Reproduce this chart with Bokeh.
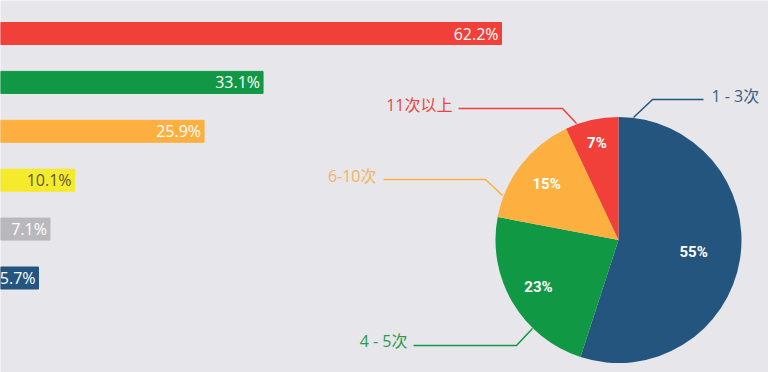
import math
from bokeh.plotting import figure
from bokeh.models import Range1d, ColumnDataSource
from bokeh.core.properties import value
from bokeh.embed import file_html
from bokeh.resources import INLINE

# ---- data ----
bar_values = [62.2, 33.1, 25.9, 10.1, 7.1, 5.7]
bar_labels = ["62.2%", "33.1%", "25.9%", "10.1%", "7.1%", "5.7%"]
bar_colors = ["#f1403a", "#109845", "#fdb03f", "#f5ea2b", "#b9b8bd", "#24557f"]
bar_text_colors = ["#ffffff", "#ffffff", "#ffffff", "#5a5840", "#ffffff", "#ffffff"]

pie_names = ["1 - 3次", "4 - 5次", "6-10次", "11次以上"]
pie_shares = [55, 23, 15, 7]
pie_labels = ["55%", "23%", "15%", "7%"]
pie_colors = ["#24557f", "#109845", "#fdb03f", "#f1403a"]
pie_name_colors = ["#3a5f86", "#2e9a4c", "#f2b45c", "#e8473e"]

BG = "#e7e6eb"
W, H = 768, 372
S = 8.195          # px per percent unit
X0 = 8.7 / S       # data value at the left frame edge (bars start off-canvas)

def px(rx):  # reference pixel x -> data x
    return X0 + rx / S

def py(ry):  # reference pixel y -> data y (y data in px from bottom)
    return H - ry

p = figure(width=W, height=H, output_backend="svg", toolbar_location=None,
           x_range=Range1d(X0, X0 + W / S), y_range=Range1d(0, H),
           min_border=0, background_fill_color=BG, border_fill_color=BG,
           outline_line_color=None)
p.axis.visible = False
p.grid.visible = False

# ---- bars ----
bar_y = [py(33) - i * 48.9 for i in range(len(bar_values))]
src = ColumnDataSource(dict(y=bar_y, right=bar_values, color=bar_colors,
                            label=bar_labels, tcolor=bar_text_colors))
p.hbar(y="y", left=0, right="right", height=22, color="color", source=src)
p.text(x="right", y="y", text="label", source=src, x_offset=-3,
       text_align="right", text_baseline="middle", text_color="tcolor",
       text_font=value("'Open Sans', 'Noto Sans CJK SC'"), text_font_size="16px")

# ---- pie ----
cx, cy = px(618), py(239.5)
R = 123 / S
starts, ends, mids = [], [], []
cum = 0
for v in pie_shares:
    a0 = cum * 3.6
    cum += v
    a1 = cum * 3.6
    starts.append(math.radians(90 - a0))
    ends.append(math.radians(90 - a1))
    mids.append((a0 + a1) / 2)
p.wedge(x=cx, y=cy, radius=R, start_angle=starts, end_angle=ends,
        direction="clock", fill_color=pie_colors, line_color=None)

label_r = [76, 93, 91, 99]
lx = [cx + math.sin(math.radians(m)) * r / S for m, r in zip(mids, label_r)]
ly = [cy + math.cos(math.radians(m)) * r for m, r in zip(mids, label_r)]
p.text(x=lx, y=ly, text=pie_labels, text_align="center", text_baseline="middle",
       text_color="#ffffff", text_font_style="bold",
       text_font=value("'Liberation Sans Narrow', 'Roboto', sans-serif"),
       text_font_size="15px")

# ---- leader lines and names ----
leaders = [
    [(633, 117), (652, 99), (703, 99)],
    [(532, 328), (516, 345), (413, 345)],
    [(502, 195), (485, 179), (383, 179)],
    [(576, 123), (562, 108), (458, 108)],
]
for pts, c in zip(leaders, pie_colors):
    p.line([px(a) for a, b in pts], [py(b) for a, b in pts], line_color=c, line_width=1.5)

name_pos = [(711, 95, "left"), (407, 340, "right"), (376, 175, "right"), (452, 104, "right")]
for (tx, ty, al), name, c in zip(name_pos, pie_names, pie_name_colors):
    p.text(x=[px(tx)], y=[py(ty)], text=[name], text_align=al, text_baseline="middle",
           text_color=c, text_font=value("'Open Sans', 'Noto Sans CJK SC'"),
           text_font_size="16px")

open("out.html", "w").write(file_html(p, INLINE))
